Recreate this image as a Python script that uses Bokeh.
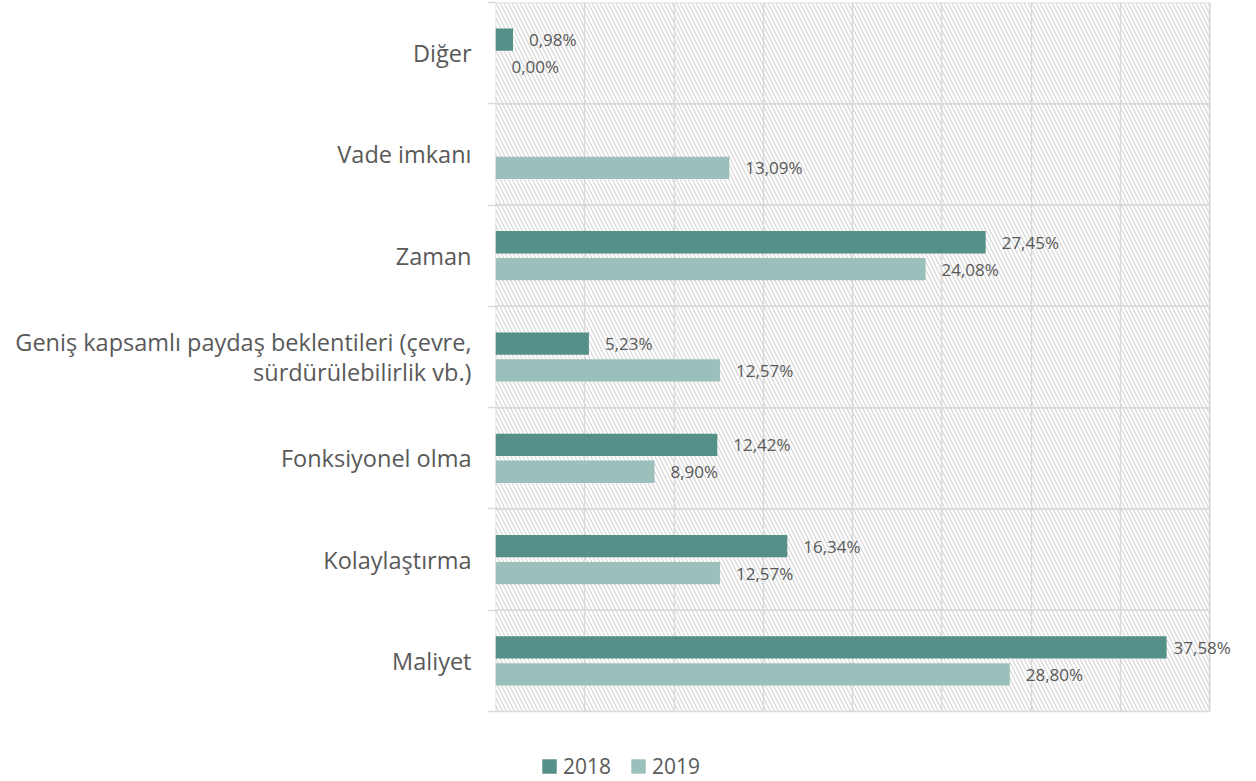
from bokeh.plotting import figure
from bokeh.models import (ColumnDataSource, Range1d, LabelSet, Legend, LegendItem,
                          SingleIntervalTicker, FixedTicker, LinearAxis)
from bokeh.core.properties import value
from bokeh.embed import file_html
from bokeh.resources import INLINE

categories = ["Maliyet", "Kolaylaştırma", "Fonksiyonel olma",
              "Geniş kapsamlı paydaş beklentileri (çevre,\nsürdürülebilirlik vb.)",
              "Zaman", "Vade imkanı", "Diğer"]
values_2018 = [37.58, 16.34, 12.42, 5.23, 27.45, None, 0.98]
values_2019 = [28.80, 12.57, 8.90, 12.57, 24.08, 13.09, 0.00]
series_names = ["2018", "2019"]
x_max = 40
x_step = 5

C2018 = "#548f88"
C2019 = "#9bbfbb"
GRID = "#d9d9d9"
TXT = "#595959"

n = len(categories)
pos = list(range(n))  # category positions on the value-free axis

p = figure(width=1250, height=781, y_range=Range1d(-0.5 - 0.691, n - 0.5),
           x_range=Range1d(0, 42), output_backend="svg", toolbar_location=None,
           min_border_left=495, min_border_right=5, min_border_top=2, min_border_bottom=0)
p.outline_line_color = None
p.xaxis.visible = False
p.yaxis.visible = False
p.ygrid.visible = False
p.xgrid.ticker = SingleIntervalTicker(interval=x_step)
p.xgrid.bounds = (0, x_max)
p.xgrid.cross_bounds = (-0.5, n - 0.5)
p.xgrid.grid_line_color = GRID
p.xgrid.grid_line_width = 1.5

# hatched background bands with borders
bg = ColumnDataSource(dict(y=pos, left=[0] * n, right=[x_max] * n))
p.hbar(y="y", left="left", right="right", height=1, source=bg, fill_alpha=0,
       hatch_pattern="\\", hatch_color="#d9d9d9", hatch_scale=8, hatch_weight=1.3,
       line_color=GRID, line_width=1.5)

def fmt(v):
    return f"{v:.2f}".replace(".", ",") + "%"

renderers = []
for name, vals, col, off in [("2018", values_2018, C2018, 0.133), ("2019", values_2019, C2019, -0.133)]:
    ys = [i + off for i, v in zip(pos, vals) if v is not None]
    vs = [v for v in vals if v is not None]
    src = ColumnDataSource(dict(y=ys, v=vs, lab=[fmt(v) for v in vs],
                                xo=[7 if v > x_max - 3 else 16 for v in vs]))
    r = p.hbar(y="y", right="v", height=0.22, source=src, fill_color=col, line_color=None)
    renderers.append(r)
    ls = LabelSet(x="v", y="y", text="lab", source=src,
                  x_offset="xo", text_baseline="middle", text_align="left",
                  text_font=value("Open Sans"), text_font_size="17px", text_color=TXT)
    p.add_layout(ls)

# category axis (labels) and boundary tick axis
cat_ax = LinearAxis(ticker=FixedTicker(ticks=pos),
                    major_label_overrides={i: c for i, c in zip(pos, categories)},
                    axis_line_color=None, major_tick_line_color=None, minor_tick_line_color=None,
                    major_label_text_font="Open Sans", major_label_text_font_size="23.5px",
                    major_label_text_line_height=0.95, major_label_text_color=TXT,
                    major_label_standoff=10)
tick_ax = LinearAxis(ticker=FixedTicker(ticks=[i - 0.5 for i in range(n + 1)]),
                     axis_line_color=None, major_tick_line_color=GRID,
                     major_tick_line_width=1.5, major_tick_in=0, major_tick_out=8,
                     minor_tick_line_color=None, major_label_text_font_size="0px",
                     major_label_text_color=None, major_label_standoff=0)
p.add_layout(tick_ax, "left")
p.add_layout(cat_ax, "left")

legend = Legend(items=[LegendItem(label=nm, renderers=[r]) for nm, r in zip(series_names, renderers)],
                orientation="horizontal", location=(45, 1), glyph_width=18, glyph_height=18,
                label_text_font="Open Sans", label_text_font_size="21px", label_text_color=TXT,
                label_standoff=5, spacing=18, padding=0, margin=0, border_line_color=None,
                background_fill_alpha=0)
p.add_layout(legend, "center")

open("out.html", "w").write(file_html(p, INLINE))
